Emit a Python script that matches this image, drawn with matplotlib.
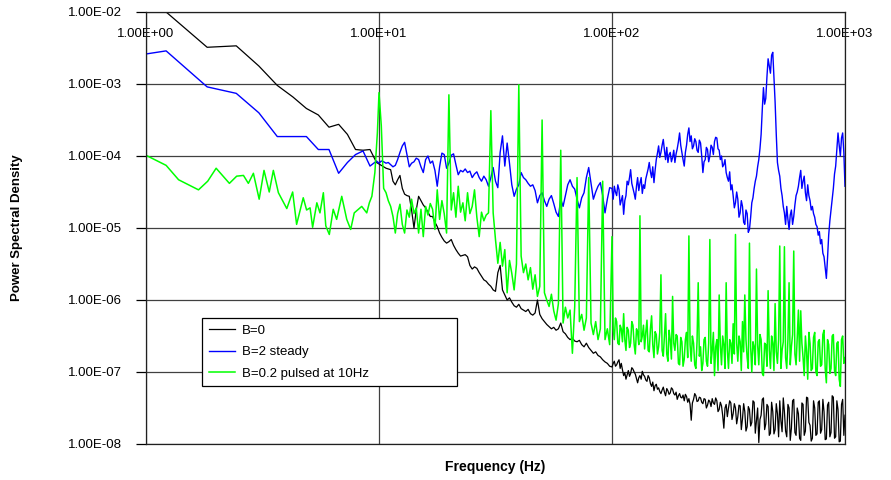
"""
PSD comparison: B=0, B=2 steady, B=0.2 pulsed at 10 Hz
"""

import matplotlib

matplotlib.use("Agg")

import matplotlib.pyplot as plt
import numpy as np
from matplotlib.ticker import FixedLocator, FuncFormatter, NullLocator


FONT = "Liberation Sans"

# low-frequency bins below 10 Hz (B=0 and B=2 runs share the same resolution)
LOW_FREQ = [0.61, 1.22, 1.83, 2.44, 3.05, 3.66, 4.27, 4.88,
            5.49, 6.10, 6.71, 7.32, 7.93, 8.54, 9.15, 9.76]

# the pulsed run was recorded with a finer resolution
PULSED_LOW_FREQ = [1.00, 1.22, 1.38, 1.68, 1.84, 2.00, 2.28, 2.45, 2.62,
                   2.75, 2.89, 3.06, 3.21, 3.38, 3.52, 3.70, 4.02, 4.26,
                   4.43, 4.73, 4.89, 5.06, 5.19, 5.41, 5.58, 5.77, 5.91,
                   6.12, 6.36, 6.58, 6.92, 7.27, 7.56, 7.83, 8.43, 8.86,
                   9.09, 9.32, 9.60, 9.84]

# one decade of log-spaced mantissas (10-100 Hz uses these,
# 100-1000 Hz also uses the half steps in between)
GRID_MANTISSA = [1.000, 1.023, 1.047, 1.072, 1.096, 1.122, 1.148, 1.175,
                 1.202, 1.230, 1.259, 1.288, 1.318, 1.349, 1.380, 1.413,
                 1.445, 1.479, 1.514, 1.549, 1.585, 1.622, 1.660, 1.698,
                 1.738, 1.778, 1.820, 1.862, 1.905, 1.950, 1.995, 2.042,
                 2.089, 2.138, 2.188, 2.239, 2.291, 2.344, 2.399, 2.455,
                 2.512, 2.570, 2.630, 2.692, 2.754, 2.818, 2.884, 2.951,
                 3.020, 3.090, 3.162, 3.236, 3.311, 3.388, 3.467, 3.548,
                 3.631, 3.715, 3.802, 3.890, 3.981, 4.074, 4.169, 4.266,
                 4.365, 4.467, 4.571, 4.677, 4.786, 4.898, 5.012, 5.129,
                 5.248, 5.370, 5.495, 5.623, 5.754, 5.888, 6.026, 6.166,
                 6.310, 6.457, 6.607, 6.761, 6.918, 7.079, 7.244, 7.413,
                 7.586, 7.762, 7.943, 8.128, 8.318, 8.511, 8.710, 8.913,
                 9.120, 9.333, 9.550, 9.772]
HALF_MANTISSA = [1.012, 1.035, 1.059, 1.084, 1.109, 1.135, 1.161, 1.189,
                 1.216, 1.245, 1.274, 1.303, 1.334, 1.365, 1.396, 1.429,
                 1.462, 1.496, 1.531, 1.567, 1.603, 1.641, 1.679, 1.718,
                 1.758, 1.799, 1.841, 1.884, 1.928, 1.972, 2.018, 2.065,
                 2.113, 2.163, 2.213, 2.265, 2.317, 2.371, 2.427, 2.483,
                 2.541, 2.600, 2.661, 2.723, 2.786, 2.851, 2.917, 2.985,
                 3.055, 3.126, 3.199, 3.273, 3.350, 3.428, 3.508, 3.589,
                 3.673, 3.758, 3.846, 3.936, 4.027, 4.121, 4.217, 4.315,
                 4.416, 4.519, 4.624, 4.732, 4.842, 4.955, 5.070, 5.188,
                 5.309, 5.433, 5.559, 5.689, 5.821, 5.957, 6.095, 6.237,
                 6.383, 6.531, 6.683, 6.839, 6.998, 7.161, 7.328, 7.499,
                 7.674, 7.852, 8.035, 8.222, 8.414, 8.610, 8.810, 9.016,
                 9.226, 9.441, 9.661, 9.886]

# log10(PSD), B = 0
B0_LOW = [-1.97, -2.00, -2.49, -2.47, -2.75, -3.02, -3.18, -3.34,
          -3.43, -3.60, -3.56, -3.70, -3.91, -3.92, -3.91, -4.09]
B0_MID = [
    -4.11, -4.13, -4.15, -4.17, -4.18, -4.19, -4.35, -4.40, -4.33, -4.27,
    -4.45, -4.53, -4.55, -4.56, -4.75, -5.00, -4.75, -4.56, -4.62, -4.68,
    -4.72, -4.78, -4.84, -4.84, -4.92, -4.98, -5.07, -5.13, -5.18, -5.21,
    -5.19, -5.16, -5.24, -5.30, -5.35, -5.39, -5.38, -5.37, -5.40, -5.52,
    -5.57, -5.54, -5.56, -5.62, -5.67, -5.72, -5.74, -5.78, -5.81, -5.86,
    -5.88, -5.62, -5.52, -5.86, -5.93, -6.00, -5.97, -6.03, -6.08, -6.10,
    -6.06, -6.12, -6.14, -6.16, -6.13, -6.19, -6.21, -6.18, -6.00, -6.20,
    -6.26, -6.30, -6.34, -6.37, -6.40, -6.38, -6.42, -6.40, -6.32, -6.44,
    -6.47, -6.52, -6.55, -6.53, -6.57, -6.58, -6.56, -6.62, -6.65, -6.60,
    -6.66, -6.70, -6.74, -6.72, -6.77, -6.79, -6.83, -6.86, -6.88, -6.92,
]
B0_HI = [
    -6.93, -6.88, -6.85, -6.92, -6.90, -6.86, -6.83, -6.95, -6.88, -6.97,
    -7.05, -7.01, -7.10, -7.04, -6.98, -7.06, -7.02, -6.94, -6.96, -7.00,
    -7.03, -7.09, -7.15, -7.08, -7.05, -7.10, -6.99, -7.04, -7.06, -7.11,
    -7.13, -7.05, -7.08, -7.16, -7.20, -7.14, -7.26, -7.19, -7.17, -7.24,
    -7.22, -7.27, -7.30, -7.25, -7.21, -7.28, -7.33, -7.23, -7.26, -7.31,
    -7.29, -7.22, -7.24, -7.30, -7.32, -7.28, -7.38, -7.33, -7.30, -7.35,
    -7.36, -7.32, -7.40, -7.31, -7.34, -7.42, -7.37, -7.45, -7.67, -7.43,
    -7.38, -7.30, -7.33, -7.41, -7.40, -7.35, -7.36, -7.42, -7.44, -7.37,
    -7.38, -7.50, -7.46, -7.39, -7.41, -7.48, -7.37, -7.43, -7.45, -7.36,
    -7.40, -7.55, -7.52, -7.42, -7.47, -7.60, -7.78, -7.50, -7.45, -7.62,
    -7.50, -7.40, -7.43, -7.66, -7.58, -7.44, -7.50, -7.72, -7.62, -7.46,
    -7.47, -7.80, -7.65, -7.44, -7.55, -7.82, -7.76, -7.48, -7.52, -7.75,
    -7.70, -7.40, -7.42, -7.85, -7.68, -7.50, -7.98, -7.66, -7.60, -7.38,
    -7.36, -7.80, -7.72, -7.45, -7.48, -7.88, -7.85, -7.42, -7.55, -7.86,
    -7.80, -7.44, -7.58, -7.90, -7.40, -7.68, -7.83, -7.36, -7.55, -7.82,
    -7.90, -7.45, -7.50, -7.95, -7.78, -7.40, -7.38, -7.84, -7.88, -7.50,
    -7.58, -7.92, -7.95, -7.43, -7.45, -7.88, -7.82, -7.35, -7.36, -7.70,
    -7.74, -7.96, -7.92, -7.40, -7.50, -7.88, -7.86, -7.42, -7.40, -7.85,
    -7.80, -7.38, -7.55, -7.94, -7.93, -7.46, -7.42, -7.90, -7.84, -7.33,
    -7.35, -7.92, -7.90, -7.40, -7.52, -7.97, -7.96, -7.45, -7.38, -7.88,
    -7.60,
]

# log10(PSD), B = 2 steady
B2_LOW = [-2.69, -2.54, -3.04, -3.13, -3.40, -3.73, -3.73, -3.73,
          -3.91, -3.91, -4.24, -4.09, -3.98, -3.93, -4.14, -4.07]
B2_MID = [
    -4.10, -4.07, -4.08, -4.10, -4.09, -4.12, -4.15, -4.13, -4.05, -3.95,
    -3.86, -3.81, -3.98, -4.15, -4.10, -4.08, -4.03, -4.05, -4.15, -4.23,
    -4.05, -4.00, -4.10, -4.07, -4.20, -4.42, -4.15, -3.96, -3.98, -4.17,
    -4.10, -3.99, -3.97, -4.12, -4.26, -4.20, -4.22, -4.18, -4.23, -4.21,
    -4.30, -4.25, -4.22, -4.30, -4.35, -4.28, -4.33, -4.42, -4.30, -4.16,
    -4.35, -4.44, -3.95, -3.72, -4.14, -3.82, -4.10, -4.40, -4.56, -4.46,
    -4.40, -4.23, -4.30, -4.33, -4.38, -4.42, -4.40, -4.48, -4.65, -4.55,
    -4.51, -4.62, -4.70, -4.60, -4.55, -4.66, -4.78, -4.84, -4.60, -4.70,
    -4.55, -4.40, -4.33, -4.42, -4.46, -4.60, -4.72, -4.58, -4.51, -4.30,
    -4.16, -4.38, -4.60, -4.50, -4.42, -4.37, -4.55, -4.79, -4.60, -4.44,
]
B2_HI = [
    -4.45, -4.60, -4.42, -4.50, -4.55, -4.40, -4.47, -4.68, -4.62, -4.55,
    -4.81, -4.62, -4.55, -4.35, -4.40, -4.30, -4.19, -4.38, -4.45, -4.52,
    -4.60, -4.42, -4.30, -4.48, -4.38, -4.30, -4.52, -4.40, -4.45, -4.32,
    -4.25, -4.18, -4.09, -4.22, -4.30, -4.15, -4.37, -4.20, -4.05, -3.96,
    -3.86, -4.02, -3.95, -3.85, -3.77, -3.92, -4.05, -3.88, -4.09, -3.98,
    -3.95, -4.08, -4.02, -3.92, -4.09, -3.97, -3.90, -3.80, -3.68, -3.85,
    -3.95, -4.05, -4.14, -3.95, -3.85, -3.70, -3.61, -3.80, -3.72, -3.90,
    -3.86, -3.76, -3.80, -3.92, -3.95, -3.78, -3.82, -4.00, -4.23, -4.08,
    -4.05, -3.88, -3.91, -4.08, -4.00, -3.85, -3.88, -3.98, -3.80, -3.74,
    -3.75, -3.90, -3.92, -4.05, -4.00, -4.15, -4.12, -4.05, -4.23, -4.30,
    -4.35, -4.22, -4.47, -4.40, -4.55, -4.72, -4.65, -4.50, -4.60, -4.85,
    -4.79, -4.62, -4.70, -4.92, -4.95, -4.75, -4.80, -5.06, -5.02, -4.85,
    -4.65, -4.58, -4.45, -4.35, -4.28, -4.15, -4.05, -3.90, -3.70, -3.35,
    -3.05, -3.28, -3.20, -2.90, -2.65, -2.75, -2.85, -2.60, -2.56, -2.90,
    -3.25, -3.70, -4.09, -4.20, -4.28, -4.45, -4.55, -4.70, -4.79, -4.95,
    -4.70, -4.88, -5.02, -4.82, -4.75, -4.95, -4.84, -4.68, -4.55, -4.50,
    -4.42, -4.30, -4.20, -4.45, -4.35, -4.28, -4.51, -4.62, -4.40, -4.55,
    -4.62, -4.75, -4.70, -4.80, -4.85, -4.95, -4.98, -5.10, -5.05, -5.22,
    -5.16, -5.35, -5.40, -5.55, -5.70, -5.42, -5.10, -4.90, -4.75, -4.60,
    -4.45, -4.25, -4.14, -3.90, -3.68, -3.85, -4.00, -3.75, -3.68, -3.95,
    -4.42,
]

# log10(PSD), B = 0.2 pulsed at 10 Hz (harmonics of 10 Hz stand out)
PULSED_LOW = [-3.99, -4.13, -4.33, -4.47, -4.35, -4.17, -4.38, -4.28, -4.27,
              -4.38, -4.24, -4.60, -4.20, -4.50, -4.20, -4.51, -4.73, -4.50,
              -4.95, -4.58, -4.75, -4.72, -4.99, -4.65, -4.79, -4.51, -4.97,
              -5.09, -4.74, -4.88, -4.56, -4.88, -5.02, -4.79, -4.70, -4.79,
              -4.65, -4.56, -4.23, -3.68]
PULSED_MID = [
    -3.12, -3.58, -4.45, -4.51, -4.62, -4.70, -4.84, -5.07, -4.80, -4.67,
    -4.95, -5.07, -4.75, -4.85, -4.60, -4.80, -4.72, -5.07, -4.74, -5.12,
    -4.70, -4.82, -4.66, -4.74, -5.02, -4.47, -4.88, -4.62, -4.80, -5.07,
    -3.15, -4.75, -4.51, -4.85, -4.42, -4.78, -4.65, -4.90, -4.51, -4.80,
    -4.70, -4.47, -4.85, -5.12, -4.78, -4.90, -4.82, -4.79, -3.37, -4.79,
    -5.16, -5.49, -5.20, -5.53, -5.30, -5.90, -5.45, -5.63, -5.86, -5.50,
    -3.01, -5.39, -5.62, -5.50, -5.72, -5.55, -5.85, -5.65, -5.95, -5.81,
    -3.50, -5.90, -6.00, -6.09, -5.92, -6.15, -6.28, -6.05, -3.92, -6.32,
    -6.10, -6.25, -6.14, -6.74, -6.09, -4.30, -6.30, -6.20, -6.42, -6.25,
    -4.30, -6.32, -6.48, -6.30, -6.55, -6.40, -4.35, -6.55, -6.40, -6.62,
]
PULSED_HI = [
    -5.12, -6.40, -6.55, -6.25, -6.30, -6.60, -6.62, -6.35, -6.40, -6.58,
    -6.19, -6.55, -6.70, -6.38, -6.42, -6.66, -6.60, -6.30, -6.35, -6.62,
    -6.75, -6.40, -6.45, -6.62, -4.83, -6.58, -6.50, -6.35, -6.68, -6.45,
    -6.28, -6.70, -6.72, -6.40, -6.22, -6.62, -6.80, -6.44, -6.48, -6.75,
    -6.65, -6.45, -5.65, -6.70, -6.78, -6.50, -6.19, -6.75, -6.85, -6.42,
    -6.55, -6.82, -5.95, -6.60, -6.70, -6.48, -6.50, -6.88, -6.90, -6.52,
    -6.58, -6.92, -6.82, -6.55, -6.45, -6.80, -5.11, -6.62, -6.85, -6.50,
    -6.60, -6.90, -6.95, -6.58, -5.76, -6.78, -6.65, -6.98, -6.88, -6.55,
    -6.52, -6.85, -6.92, -6.60, -5.16, -6.88, -6.70, -6.45, -7.05, -6.65,
    -6.55, -6.98, -5.93, -6.62, -6.90, -6.50, -6.62, -6.95, -5.76, -6.70,
    -6.95, -6.55, -6.60, -6.88, -6.33, -6.75, -5.09, -6.60, -6.85, -6.50,
    -6.58, -6.98, -6.30, -6.72, -5.93, -6.55, -6.80, -6.95, -5.21, -6.65,
    -7.00, -6.58, -6.65, -6.90, -5.57, -6.62, -6.90, -6.48, -6.55, -7.02,
    -7.05, -6.60, -6.62, -6.92, -5.87, -6.70, -6.95, -6.50, -6.60, -6.98,
    -6.05, -6.72, -6.88, -6.55, -5.25, -6.95, -6.70, -6.58, -5.26, -6.80,
    -6.95, -6.55, -5.76, -6.90, -6.65, -6.48, -5.32, -6.75, -6.90, -6.52,
    -6.14, -6.85, -6.15, -6.60, -6.80, -7.05, -6.50, -6.72, -7.10, -6.45,
    -6.60, -6.98, -6.95, -6.52, -6.45, -7.00, -7.05, -6.58, -6.55, -6.92,
    -6.90, -6.48, -6.42, -6.95, -7.15, -6.55, -6.62, -7.02, -6.95, -6.50,
    -6.48, -6.98, -7.05, -6.60, -6.58, -7.10, -7.20, -6.55, -6.50, -6.88,
    -6.80,
]

X_TICKS = [1, 10, 100, 1000]
Y_TICKS = [1e-8, 1e-7, 1e-6, 1e-5, 1e-4, 1e-3, 1e-2]

SERIES = [
    ("B=0", "#000000", 0.9),
    ("B=2 steady", "#0000ff", 1.0),
    ("B=0.2 pulsed at 10Hz", "#00ff00", 1.1),
]


def mid_freq():
    return [10.0 * m for m in GRID_MANTISSA]


def hi_freq():
    freq = []
    for full, half in zip(GRID_MANTISSA, HALF_MANTISSA):
        freq += [100.0 * full, 100.0 * half]
    return freq + [1000.0]


def build_series():
    shared = mid_freq() + hi_freq()
    freqs = [
        LOW_FREQ + shared,
        LOW_FREQ + shared,
        PULSED_LOW_FREQ + shared,
    ]
    logs = [
        B0_LOW + B0_MID + B0_HI,
        B2_LOW + B2_MID + B2_HI,
        PULSED_LOW + PULSED_MID + PULSED_HI,
    ]
    return [
        (np.array(f), 10.0 ** np.array(v)) for f, v in zip(freqs, logs)
    ]


def sci_label(value, _pos):
    return f"{value:.2E}"


def main():
    plt.rcParams["font.family"] = [FONT, "DejaVu Sans"]

    fig = plt.figure(figsize=(8.91, 4.8), dpi=100)
    ax = fig.add_axes([146 / 891, 36 / 480, 699 / 891, 432 / 480])

    for (freq, psd), (label, color, width) in zip(build_series(), SERIES):
        ax.plot(freq, psd, color=color, lw=width, label=label)

    ax.set_xscale("log")
    ax.set_yscale("log")
    ax.set_xlim(1, 1000)
    ax.set_ylim(1e-8, 1e-2)

    ax.xaxis.set_major_locator(FixedLocator(X_TICKS))
    ax.yaxis.set_major_locator(FixedLocator(Y_TICKS))
    ax.xaxis.set_minor_locator(NullLocator())
    ax.yaxis.set_minor_locator(NullLocator())
    ax.xaxis.set_major_formatter(FuncFormatter(sci_label))
    ax.yaxis.set_major_formatter(FuncFormatter(sci_label))

    # x axis crosses at the top; its labels sit just inside the plot
    ax.tick_params(
        axis="x",
        top=True,
        bottom=False,
        labeltop=True,
        labelbottom=False,
        length=0,
        pad=-20,
        labelsize=9.5,
    )
    ax.tick_params(
        axis="y",
        direction="out",
        length=7,
        width=0.9,
        pad=10,
        labelsize=9.5,
    )

    ax.grid(True, which="major", color="#404040", lw=0.9)
    for spine in ax.spines.values():
        spine.set_color("#202020")
        spine.set_linewidth(0.9)

    fig.text(
        17 / 891,
        (480 - 228) / 480,
        "Power Spectral Density",
        rotation=90,
        ha="center",
        va="center",
        fontsize=9.5,
        fontweight="bold",
    )
    fig.text(
        495 / 891,
        (480 - 467) / 480,
        "Frequency (Hz)",
        ha="center",
        va="center",
        fontsize=10,
        fontweight="bold",
    )

    legend = ax.legend(
        loc="lower left",
        bbox_to_anchor=(0.080, 0.134, 0.365, 0.153),
        mode="expand",
        borderaxespad=0,
        fancybox=False,
        framealpha=1,
        edgecolor="#000000",
        fontsize=9.5,
        handlelength=2.0,
        handletextpad=0.5,
        labelspacing=0.68,
        borderpad=0.5,
    )
    legend.get_frame().set_linewidth(0.9)

    fig.savefig("out.png", dpi=100)
    plt.close(fig)


if __name__ == "__main__":
    main()
